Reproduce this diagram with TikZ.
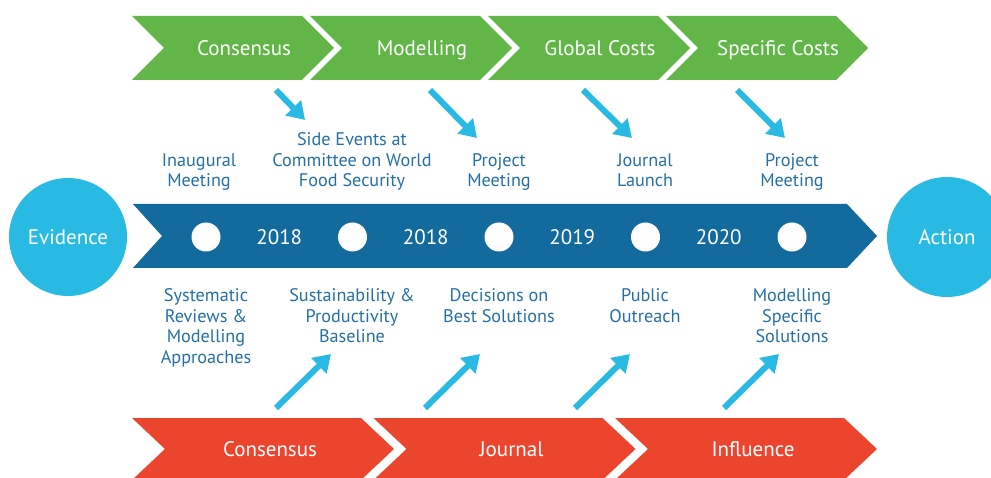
\documentclass[tikz,border=0pt]{standalone}
\usepackage{fontspec}
\setmainfont{PT Sans}
\usetikzlibrary{arrows.meta}
\definecolor{leaf}{HTML}{62B647}
\definecolor{sea}{HTML}{136A9D}
\definecolor{sky}{HTML}{29BAE3}
\definecolor{brick}{HTML}{EC452D}
\definecolor{ink}{HTML}{2470A6}
\begin{document}
\begin{tikzpicture}[x=1pt,y=-1pt]
  \tikzstyle{band} = [text=white,inner sep=0pt,font=\fontsize{21}{24}\selectfont]
  \tikzstyle{dot} = [circle,fill=white,inner sep=0pt,minimum size=29pt]
  \tikzstyle{lbl} = [text=ink,align=center,inner sep=0pt,text depth=4pt,font=\fontsize{18.2}{20.5}\selectfont]
  \tikzstyle{hint} = [draw=sky,line width=6pt,-{Triangle[length=17pt,width=21pt]}]
  \useasboundingbox (0,0) rectangle (991,478);
  % top stages
  \foreach \i/\t in {0/Consensus,1/Modelling,2/Global Costs,3/Specific Costs}{
    \fill[leaf] (132+178*\i,16) -- ++(170,0) -- ++(32,32) -- ++(-32,32) -- ++(-170,0) -- ++(32,-32) -- cycle;
    \node[band,anchor=base] (g\i) at (244+178*\i,55.5) {\t};
  }
  % bottom stages
  \foreach \i/\t in {0/Consensus,1/Journal,2/Influence}{
    \fill[brick] (132+241.5*\i,418) -- ++(229,0) -- ++(33,31) -- ++(-33,31) -- ++(-229,0) -- ++(33,-31) -- cycle;
    \node[band,anchor=base] (r\i) at (270+241.5*\i,456.5) {\t};
  }
  % timeline
  \fill[sea] (133,204) -- (847,204) -- (877,236) -- (847,268) -- (133,268) -- (162,236) -- cycle;
  \node[circle,fill=sky,minimum size=118pt,band] (ev) at (68,237) {Evidence};
  \node[circle,fill=sky,minimum size=120pt,band] (ac) at (947,237) {Action};
  \foreach \i in {1,...,5}
    \node[dot] (d\i) at (59.5+146.5*\i,237) {};
  \foreach \i/\y in {1/2018,2/2018,3/2019,4/2020}
    \node[band,anchor=base] (y\i) at (132.75+146.5*\i,244.5) {\y};
  % events
  \foreach \i/\x/\t in {1/199/Inaugural\\Meeting,2/352/Side Events at\\Committee on World\\Food Security,
      3/499/Project\\Meeting,4/645/Journal\\Launch,5/792/Project\\Meeting}
    \node[lbl,anchor=south] (t\i) at (\x,191) {\t};
  \foreach \i/\x/\t in {1/206/Systematic\\Reviews \&\\Modelling\\Approaches,2/352/Sustainability \&\\Productivity\\Baseline,
      3/499/Decisions on\\Best Solutions,4/645/Public\\Outreach,5/792/Modelling\\Specific\\Solutions}
    \node[lbl,anchor=north] (b\i) at (\x,288.5) {\t};
  % arrows
  \foreach \i/\a/\b/\c/\d in {1/276/90/305/120,2/430/90/477/138,3/583/90/632/138,4/737/90/785/138}{
    \coordinate (p\i) at (\a,\b);
    \coordinate (q\i) at (\c,\d);
    \draw[hint] (p\i) -- (q\i);
  }
  \foreach \i/\a in {1/276,2/425,3/575,4/724}{
    \coordinate (u\i) at (\a,408);
    \coordinate (v\i) at (\a+55,354);
    \draw[hint] (u\i) -- (v\i);
  }
\end{tikzpicture}
\end{document}
